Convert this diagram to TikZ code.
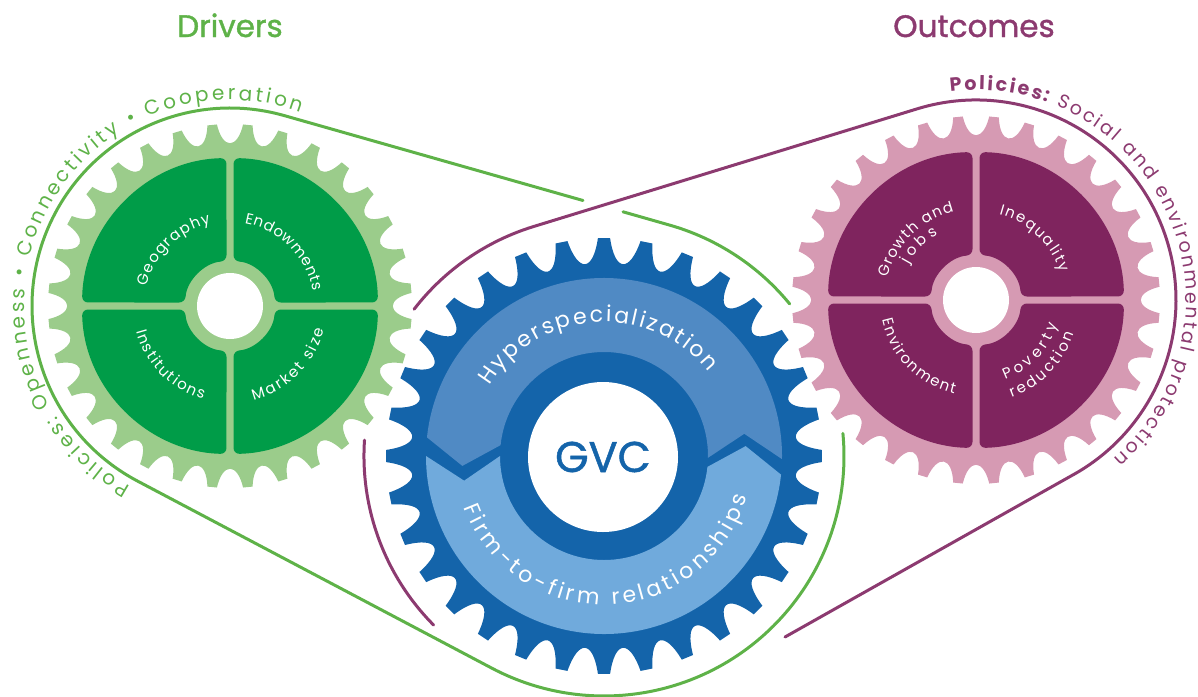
\documentclass[tikz,border=0pt]{standalone}
\usepackage{fontspec}
\setmainfont{Poppins}
\newfontfamily\heavyfont{Poppins}[FakeBold=1.2]
\usetikzlibrary{decorations.text}
\definecolor{bgreen}{RGB}{94,178,72}
\definecolor{lgreen}{RGB}{155,204,139}
\definecolor{dgreen}{RGB}{0,156,72}
\definecolor{bdark}{RGB}{20,100,170}
\definecolor{bandA}{RGB}{80,138,196}
\definecolor{bandB}{RGB}{112,170,220}
\definecolor{lpink}{RGB}{214,154,179}
\definecolor{dpurple}{RGB}{127,36,94}
\definecolor{bpurple}{RGB}{140,58,112}
% #1 cx #2 cy #3 colour #4 tip radius #5 control radius #6 phase #7 half tip angle #8 flank delta
\newcommand\drawgear[8]{%
  \fill[#3, shift={(#1,#2)}] ({#6-#7}:#4)
  \foreach \k in {0,...,31}{
    -- ({#6+\k*11.25+#7}:#4)
    .. controls ({#6+\k*11.25+#7+#8}:#5) and ({#6+(\k+1)*11.25-#7-#8}:#5) .. ({#6+(\k+1)*11.25-#7}:#4)
  } -- cycle;}
\newcommand\quadrants[3]{%
  \foreach \a in {0,90,180,270}{
    \fill[#3, rounded corners=6pt, shift={(#1,#2)}] ({\a+1.36}:148) arc[start angle={\a+1.36}, end angle={\a+88.64}, radius=148]
      -- ({\a+85.54}:45) arc[start angle={\a+85.54}, end angle={\a+4.46}, radius=45] -- cycle;
  }
  \fill[white] (#1,#2) circle[radius=33];}
\newcommand\arctext[7]{%
  \path[shift={#1}, decorate, decoration={text along path, text align=#5, text={|#6|#7}}]
    (#3:#2) arc[start angle=#3, end angle=#4, radius=#2];}
\newcommand\qf{\fontsize{15}{18}\selectfont\color{white}}
\begin{document}
\begin{tikzpicture}[x=1pt,y=-1pt, belt/.style={line width=3pt, line cap=round}]
\useasboundingbox (0,0) rectangle (1198,696);
\coordinate (L) at (230,306);
\coordinate (B) at (604,456);
\coordinate (R) at (976,300);
% green belt tangent points
\coordinate (gT1) at (284.1,115.5);
\coordinate (gCut1) at (583,200.5);
\coordinate (gCut2) at (623,211.8);
\coordinate (gT2) at (669.6,225.1);
\coordinate (gResume) at (842.9,433.4);
\coordinate (gT3) at (137.6,481.1);
% purple belt points
\coordinate (pA) at (364.5,440.1);
\coordinate (pB) at (414.1,309.2);
\coordinate (pTR) at (917.3,108.8);
\coordinate (pEnd) at (785,637);
% green belt
\draw[belt, bgreen] (gCut2) -- (gT2) arc[start angle=-74.13, end angle=-39.3, radius=240];
\draw[belt, bgreen] (gResume) arc[start angle=-5.4, end angle=117.83, radius=240] -- (gT3)
   arc[start angle=117.83, end angle=285.87, radius=198] -- (gCut1);
% purple belt
\draw[belt, bpurple] (pA) arc[start angle=183.8, end angle=135.2, radius=240];
\draw[belt, bpurple] (pB) arc[start angle=217.7, end angle=252.94, radius=240] -- (pTR)
   arc[start angle=252.94, end angle=421.56, radius=200] -- (pEnd);
% left gear
\drawgear{230}{306}{lgreen}{182}{156.7}{5.625}{1.5}{1.5}
\quadrants{230}{306}{dgreen}
% right gear
\drawgear{976}{300}{lpink}{184}{158.7}{5.625}{1.5}{1.5}
\quadrants{976}{300}{dpurple}
% centre gear
\drawgear{604}{456}{bdark}{218}{184.7}{0}{1.6}{1.8}
\fill[bandA, shift={(604,456)}] (186:178) arc[start angle=186, end angle=361, radius=178]
  -- (351:142) -- (361:104) arc[start angle=361, end angle=186, radius=104] -- (176:142) -- cycle;
\fill[bandB, shift={(604,456)}] (6:178) arc[start angle=6, end angle=180, radius=178]
  -- (170:142) -- (180:104) arc[start angle=180, end angle=6, radius=104] -- (-4:142) -- cycle;
\fill[white] (603,457) circle[radius=75];
\node[font=\heavyfont\fontsize{43}{50}\selectfont, text=bdark, anchor=base] (gvc) at (603,472) {GVC};
% titles
\node[font=\heavyfont\fontsize{31}{36}\selectfont, text=bgreen, anchor=base] (drivers) at (230,37) {Drivers};
\node[font=\heavyfont\fontsize{31}{36}\selectfont, text=bpurple, anchor=base] (outcomes) at (974,37) {Outcomes};
% belt texts
\arctext{(230,306)}{206}{119}{290}{fit to path}{\fontsize{20}{24}\selectfont\color{bgreen}}{Policies: Openness • Connectivity • Cooperation}
\arctext{(976,300)}{210}{263}{409}{fit to path}{\fontsize{19}{23}\selectfont\color{bpurple}\bfseries}{Policies: |\fontsize{19}{23}\selectfont\color{bpurple}\mdseries|Social and environmental protection}
% band texts
\arctext{(604,456)}{134}{211.5}{321.5}{fit to path}{\fontsize{22}{26}\selectfont\color{white}}{Hyperspecialization}
\arctext{(604,456)}{149}{160}{16}{fit to path}{\fontsize{22}{26}\selectfont\color{white}}{Firm-to-firm relationships}
% quadrant texts
\arctext{(230,306)}{85}{193}{257}{fit to path}{\qf}{Geography}
\arctext{(230,306)}{84}{280}{350}{fit to path}{\qf}{Endowments}
\arctext{(230,306)}{97}{165}{106}{fit to path}{\qf}{Institutions}
\arctext{(230,306)}{97}{76}{14}{fit to path}{\qf}{Market size}
\arctext{(976,300)}{91}{194}{256}{fit to path}{\qf}{Growth and}
\arctext{(976,300)}{76}{208}{240}{fit to path}{\qf}{jobs}
\arctext{(976,300)}{89}{285}{342}{fit to path}{\qf}{Inequality}
\arctext{(976,300)}{96}{168}{103}{fit to path}{\qf}{Environment}
\arctext{(976,300)}{85}{70}{17}{fit to path}{\qf}{Poverty}
\arctext{(976,300)}{104}{70}{19}{fit to path}{\qf}{reduction}
\end{tikzpicture}
\end{document}
